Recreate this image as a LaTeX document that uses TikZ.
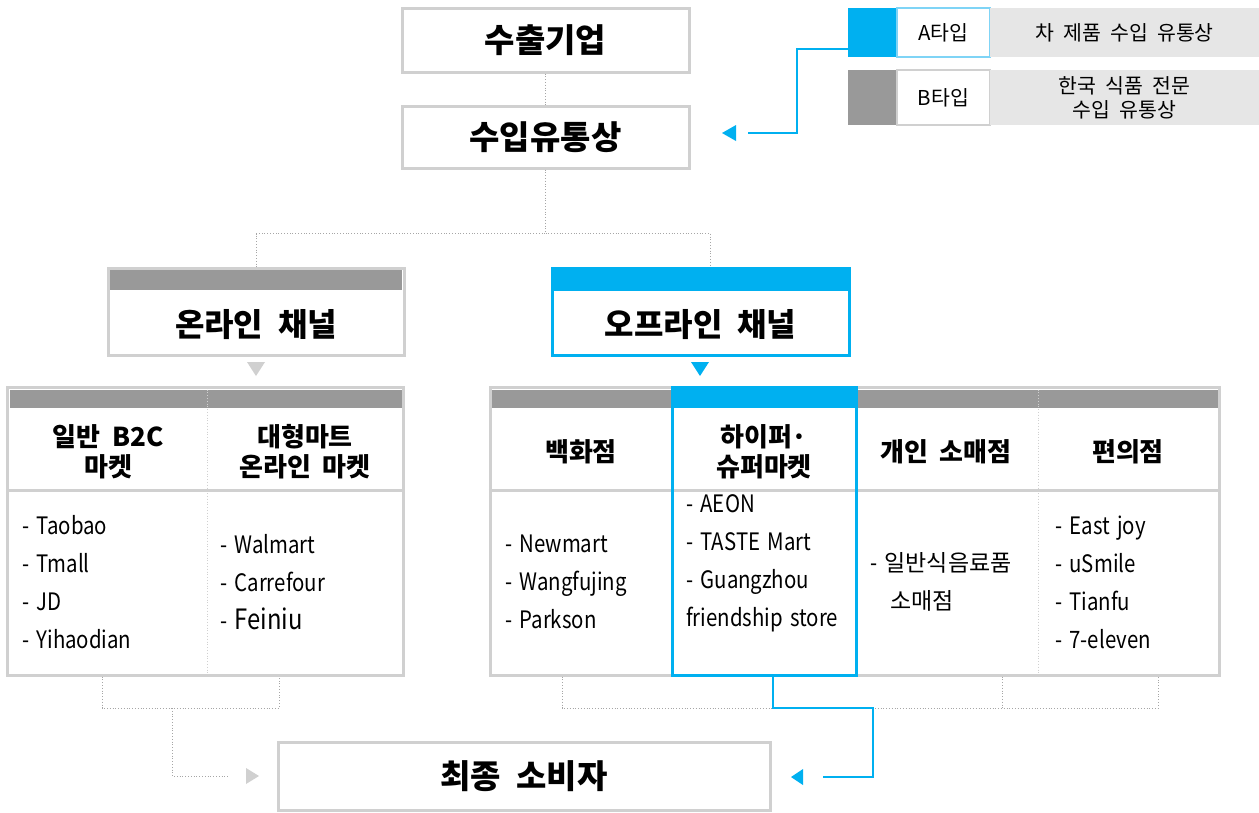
\documentclass[tikz,border=0pt]{standalone}
\usepackage{fontspec}
\setmainfont[WordSpace=2]{Noto Sans CJK KR}
\newfontfamily\listfont[FakeStretch=0.85, WordSpace=1.6]{Noto Sans CJK KR}
\usetikzlibrary{positioning}
\definecolor{skyblue}{HTML}{00B0F0}
\definecolor{lightsky}{HTML}{7FD4F6}
\definecolor{bargray}{HTML}{999999}
\definecolor{edgegray}{HTML}{D0D0D0}
\definecolor{leggray}{HTML}{E6E6E6}
\definecolor{dotgray}{HTML}{A6A6A6}
\tikzset{
  lvlbox/.style={draw=edgegray, line width=3pt, fill=white, inner sep=0pt},
  toptext/.style={inner sep=0pt, font=\bfseries\fontsize{33}{38}\selectfont},
  chantext/.style={inner sep=0pt, font=\bfseries\fontsize{32}{36}\selectfont},
  headtext/.style={inner sep=0pt, align=center, font=\bfseries\fontsize{26}{30}\selectfont},
  listtext/.style={inner sep=0pt, anchor=west, align=left, font=\listfont\fontsize{24}{38}\selectfont},
  legtext/.style={inner sep=0pt, align=center, font=\fontsize{20.5}{24}\selectfont},
  dotline/.style={dotgray, dotted, line width=0.8pt},
  blueline/.style={skyblue, line width=1.2pt},
}
\begin{document}
\begin{tikzpicture}[x=1pt, y=-1pt]
\useasboundingbox (0,0) rectangle (1259,812);

% exporter and importer
\node[lvlbox, minimum width=287, minimum height=64] (export) at (545.5,40) {};
\node[toptext] (exportlbl) at (export) {수출기업};
\node[lvlbox, minimum width=287, minimum height=62] (importer) at (545.5,137) {};
\node[toptext] (importerlbl) at (importer) {수입유통상};
\draw[dotline] (export.south) -- (importer.north);

% legend
\node[fill=skyblue, minimum width=49, minimum height=49, inner sep=0] (asq) at (872.5,32.5) {};
\node[draw=lightsky, line width=1.2pt, fill=white, minimum width=93, minimum height=49, legtext] (atag) at (943.5,32.5) {A타입};
\node[fill=leggray, minimum width=269, minimum height=49, legtext] (adesc) at (1124.5,32.5) {차 제품 수입 유통상};
\node[fill=bargray, minimum width=49, minimum height=55, inner sep=0] (bsq) at (872.5,97.5) {};
\node[draw=edgegray, line width=1.2pt, fill=white, minimum width=93, minimum height=55, legtext] (btag) at (943.5,97.5) {B타입};
\node[fill=leggray, minimum width=269, minimum height=55, legtext] (bdesc) at (1124.5,97.5) {한국 식품 전문\\수입 유통상};
\coordinate (afoot) at (848,49);
\coordinate (importin) at (748,133);
\draw[blueline] (afoot) -- ++(-51,0) |- (importin);
\fill[skyblue] (722,133) -- (736,125) -- (736,141) -- cycle;

% channels
\node[lvlbox, minimum width=296, minimum height=87] (online) at (256,311.5) {};
\fill[bargray] (110,270) rectangle (402,290);
\node[chantext] (onlinelbl) at (256,325) {온라인 채널};
\node[lvlbox, draw=skyblue, minimum width=297, minimum height=87] (offline) at (700.5,311.5) {};
\fill[skyblue] (552,268) rectangle (849,291);
\node[chantext] (offlinelbl) at (700.5,325) {오프라인 채널};
\draw[dotline] (importer.south) -- ++(0,64) -| (online.north);
\draw[dotline] (importer.south) ++(0,64) -| ([xshift=10]offline.north);
\fill[edgegray] (247,362) -- (265,362) -- (256,376) -- cycle;
\fill[skyblue] (691,362) -- (709,362) -- (700,376) -- cycle;

% online table
\node[lvlbox, minimum width=396, minimum height=288] (ontab) at (205.5,531) {};
\fill[bargray] (9.5,389.5) rectangle (401.5,408);
\draw[edgegray, line width=3pt] (ontab.west |- 0,490) -- (ontab.east |- 0,490);
\draw[edgegray, dotted, line width=0.8pt] (207,389.5) -- (207,673.5);
\node[headtext] (b2c) at (108,452) {일반 B2C\\마켓};
\node[headtext] (martonline) at (305,452) {대형마트\\온라인 마켓};
\node[listtext] (b2clist) at (22,582) {- Taobao\\- Tmall\\- JD\\- Yihaodian};
\node[listtext] (martlist) at (220,582) {- Walmart\\- Carrefour\\- {\fontsize{28}{38}\selectfont Feiniu}};

% offline table
\node[lvlbox, minimum width=729, minimum height=288] (offtab) at (854.5,531) {};
\fill[bargray] (491.5,389.5) rectangle (1217.5,408);
\draw[edgegray, line width=3pt] (offtab.west |- 0,490) -- (offtab.east |- 0,490);
\draw[edgegray, dotted, line width=0.8pt] (1038,389.5) -- (1038,673.5);
\fill[skyblue] (671,386) rectangle (857,408);
\draw[skyblue, line width=3pt] (672,386) -- (672,675) -- (856,675) -- (856,386);
\node[headtext] (dept) at (581,452) {백화점};
\node[headtext] (hyper) at (764,452) {하이퍼·\\슈퍼마켓};
\node[headtext] (retail) at (946,452) {개인 소매점};
\node[headtext] (conv) at (1128,452) {편의점};
\node[listtext] (deptlist) at (505,582) {- Newmart\\- Wangfujing\\- Parkson};
\node[listtext] (hyperlist) at (686,563) {- AEON\\- TASTE Mart\\- Guangzhou\\friendship store};
\node[listtext] (retaillist) at (870,582) {- {\normalfont\fontsize{23}{38}\selectfont 일반식음료품}\\\hspace*{20pt}{\normalfont\fontsize{23}{38}\selectfont 소매점}};
\node[listtext] (convlist) at (1055,582) {- East joy\\- uSmile\\- Tianfu\\- 7-eleven};

% consumer
\node[lvlbox, minimum width=492, minimum height=68] (consumer) at (524,776) {};
\node[toptext] (consumerlbl) at (524,776) {최종 소비자};

% online to consumer
\coordinate (onjoin) at (172,708);
\coordinate (onin) at (228,776);
\draw[dotline] (ontab.south -| 102,0) -- (102,708) -- (279,708) -- (ontab.south -| 279,0);
\draw[dotline] (onjoin) |- (onin);
\fill[edgegray] (259,776) -- (246,768) -- (246,784) -- cycle;

% offline to consumer
\coordinate (offjoin) at (873,708);
\coordinate (offin) at (823,777);
\draw[dotline] (offtab.south -| 562,0) -- (562,708) -- (1158,708) -- (offtab.south -| 1158,0);
\draw[dotline] (offtab.south -| 1002,0) -- (1002,708);
\draw[blueline] (offtab.south -| 773,0) -- (773,708) -- (offjoin) |- (offin);
\fill[skyblue] (791,777) -- (803,769) -- (803,785) -- cycle;
\end{tikzpicture}
\end{document}
